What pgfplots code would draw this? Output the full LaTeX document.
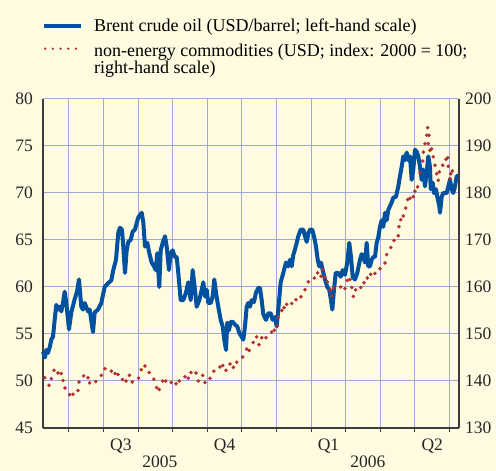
\documentclass[border=0pt]{standalone}
\usepackage{pgfplots}
\pgfplotsset{compat=1.18}
\usepackage{fontspec}
\setmainfont{Liberation Serif}
\definecolor{bgc}{RGB}{255,251,225}
\definecolor{gridc}{RGB}{160,168,218}
\definecolor{brent}{RGB}{0,82,160}
\definecolor{comm}{RGB}{178,48,45}
\definecolor{axc}{RGB}{60,60,60}
\begin{document}
\begin{tikzpicture}
\fill[bgc] (-43pt,-43pt) rectangle (453pt,428pt);
\path[use as bounding box] (-43pt,-43pt) rectangle (453pt,428pt);
\begin{axis}[
  at={(0pt,0pt)}, anchor=south west,
  scale only axis, width=416pt, height=329pt,
  xmin=5.249, xmax=17.272, ymin=45, ymax=80,
  xtick={6,...,17}, xticklabels={},
  ytick={45,50,...,80},
  grid=major, major grid style={color=gridc, line width=1pt},
  axis x line*=bottom, axis y line*=left,
  axis line style={-, color=axc, line width=1.2pt},
  x tick style={color=axc, line width=1pt}, tick align=outside,
  major tick length=4pt,
  y tick style={draw=none},
  /pgf/number format/assume math mode=true,
  tick label style={font=\fontsize{17.5}{20}\selectfont, color=black!85},
  yticklabel style={inner sep=0pt, xshift=-6pt},
  clip=false,
  legend style={at={(0,1)}, anchor=north west, xshift=-1pt, yshift=82pt,
    draw=none, fill=none, inner sep=0pt, column sep=9pt, row sep=8pt,
    font=\fontsize{18}{16}\selectfont,
    cells={anchor=base west, inner sep=0pt, text height=12pt, text depth=4pt}},
  legend image code/.code={\draw[#1, line width=4pt] (0pt,5pt) -- (37pt,5pt);},
]
\addplot[brent, line width=4pt, line join=round] table[x expr={6+(\thisrowno{0}-69)/34.6}, y index=1] {
px val
43 53.1
45 52.5
46.3 53.3
48 53.0
50 53.7
51.3 54.4
53 54.7
54.7 56.5
56.3 58.1
58 57.6
59.7 57.9
61.3 57.4
63 58.3
64.7 59.5
66.3 58.3
69 55.5
71.3 57.3
74.7 58.7
77 59.5
79 60.8
81.3 57.9
83 57.6
84.7 58.3
88 57.4
89.7 57.6
93 55.2
94.7 57.3
98 57.6
101.3 58.3
104.7 60.0
108 60.4
111.3 60.7
113.3 61.8
116 62.9
118.3 65.8
120 66.3
122 66.1
123.3 64.3
125 61.5
126.7 63.9
128.3 64.8
130.7 65.0
132.7 65.9
135 66.1
136.7 66.8
138.3 67.4
141.7 67.9
143.3 66.9
145 64.3
147.3 64.7
149.3 63.6
151.7 62.6
154 62.2
155.7 61.8
157.3 63.6
159.3 60.0
160.7 63.9
162.7 64.7
165 65.4
166.7 64.3
169 61.8
170.7 63.6
172.7 63.9
174.7 63.2
176.7 63.2
178.3 61.5
180.7 58.6
183.3 58.6
186 59.4
188.3 60.5
190.7 58.6
192.7 61.8
195 59.7
196.7 57.9
199.3 58.6
201.7 59.7
203.3 60.5
205 59.0
206.7 59.7
208.3 58.3
210.7 58.3
212.7 59.0
214.3 60.8
216 59.4
218.3 57.9
220.7 56.5
222.7 55.8
224.3 54.4
226 53.3
227.3 56.2
229 55.4
230.7 56.3
232.7 56.3
235 56.0
237.3 55.8
239.3 55.1
241.7 54.7
243.3 54.4
245 55.8
246.7 57.9
248.3 58.3
250 57.9
251.7 58.6
254 58.4
256 59.4
258.3 59.9
260 59.9
261.7 58.6
263.3 57.1
266 56.5
268.3 57.2
270.7 57.2
272.7 56.5
275 56.8
276.7 55.8
278.3 57.6
280.7 60.5
283.3 61.5
286 62.6
288.3 62.2
290 62.9
291.7 62.2
293.3 63.4
295 64.0
296.7 64.7
298.3 65.4
300.7 66.1
303.3 66.1
305 65.4
306.7 64.8
308.3 65.7
310 66.1
312.3 66.1
314 65.4
316 64.3
317.7 62.9
319.3 62.2
321 62.6
322.7 61.8
325 60.8
327.3 60.0
329.3 59.7
331 58.6
332.3 57.6
334 59.7
335.7 61.5
338.3 61.5
340.7 61.1
342.7 61.8
345 61.3
347.3 62.6
349.3 64.7
351 63.2
352.7 61.1
355 60.8
357.3 61.5
360 62.9
361.7 63.5
363.3 63.2
365 62.6
366.7 64.7
368.3 62.2
370 62.2
371.7 62.9
373.3 63.2
375 63.2
376.7 64.7
378.3 65.3
380 66.4
381.7 67.1
383.3 66.4
385 67.9
386.7 67.1
388.3 68.2
390 68.6
391.7 69.0
393.3 69.5
396 69.6
398.3 70.7
400 71.8
401.7 72.8
403.3 73.9
405 73.5
406.7 74.3
408.3 73.5
410 73.9
411.7 71.4
413.3 72.5
415 74.6
416.7 74.4
418.3 73.9
420 72.8
421.7 71.4
423.3 72.5
425 70.7
426.7 72.2
428.3 73.9
430 72.8
430.7 70.4
432.7 71.1
434 70.0
436 70.4
437.3 69.6
439.3 68.6
440 67.9
441.7 69.6
443.3 70.0
446.7 70.0
448.3 70.7
450 71.4
451.7 70.4
453.3 70.0
455 70.7
456.7 71.8
459 71.8
};
\addlegendentry{Brent crude oil (USD/barrel; left-hand scale)}
\addlegendimage{legend image code/.code={\draw[comm, line width=2.6pt, line cap=round, dash pattern=on 0pt off 7.7pt] (1pt,8pt) -- (33pt,8pt);}}
\addlegendentry{\begin{tabular}[t]{@{}l@{}}non-energy commodities (USD; index: 2000 = 100;\\right-hand scale)\end{tabular}}
\node[anchor=base, font=\fontsize{17.5}{20}\selectfont, color=black!85] at (axis cs:7.5,45) [yshift=-23pt] {Q3};
\node[anchor=base, font=\fontsize{17.5}{20}\selectfont, color=black!85] at (axis cs:10.5,45) [yshift=-23pt] {Q4};
\node[anchor=base, font=\fontsize{17.5}{20}\selectfont, color=black!85] at (axis cs:13.5,45) [yshift=-23pt] {Q1};
\node[anchor=base, font=\fontsize{17.5}{20}\selectfont, color=black!85] at (axis cs:16.5,45) [yshift=-23pt] {Q2};
\node[anchor=base, inner sep=0pt, font=\fontsize{17.5}{20}\selectfont, color=black!85] at (axis cs:8.63,45) [yshift=-40pt] {2005};
\node[anchor=base, inner sep=0pt, font=\fontsize{17.5}{20}\selectfont, color=black!85] at (axis cs:14.64,45) [yshift=-40pt] {2006};
\end{axis}
\begin{axis}[
  at={(0pt,0pt)}, anchor=south west,
  scale only axis, width=416pt, height=329pt,
  xmin=5.249, xmax=17.272, ymin=130, ymax=200,
  ytick={130,140,...,200},
  hide x axis, axis y line*=right,
  axis line style={-, color=axc, line width=1.2pt},
  y tick style={draw=none},
  /pgf/number format/assume math mode=true,
  tick label style={font=\fontsize{17.5}{20}\selectfont, color=black!85},
  yticklabel style={inner sep=0pt, xshift=6pt},
]
\addplot[only marks, mark=*, mark size=1.6pt, color=comm, mark options={draw=none, fill=comm}] table[x expr={6+(\thisrowno{0}-69)/34.6}, y index=1] {
px val
44.7 140.7
49 139.1
51.3 140.5
54 142.3
58 141.7
61.3 141.6
63 140.1
65 138.5
69.7 137.1
73 137.2
78 138.0
79 139.8
83.7 141.1
88 140.7
89.7 139.6
95.7 139.9
101.3 141.2
105 142.6
111.3 142.1
115 141.6
118 141.4
122.5 140.3
126 140.0
129.5 141.2
132.3 139.8
138.7 140.6
141.3 142.4
145 143.2
149.3 141.8
154 140.4
156.7 138.6
159.3 138.2
162.7 140.0
165.7 140.0
171.3 139.7
176 139.4
179.3 140.0
185 140.9
188.3 140.6
191 141.8
196 141.7
198.3 140.0
202.7 141.2
205 139.7
210 140.6
214 142.1
220 143.0
222.7 143.3
226 142.3
230 143.6
233.3 142.9
236.7 144.0
242.7 145.1
246.7 146.8
249.3 146.5
253.3 148.2
256.7 149.4
259 147.7
261.7 149.2
266 149.2
271.7 150.4
274.3 150.8
277.3 151.7
278.3 153.5
281.7 155.0
284 155.6
286.7 156.3
291.7 156.5
296 157.3
301 157.9
305 159.4
308.3 161.1
314.3 161.9
317.7 163.0
321 162.3
322.7 163.7
325 162.1
327.3 161.1
330 159.4
331.7 158.1
333.3 159.8
340.7 160.0
345 159.7
347.3 161.4
350 161.6
351.7 159.9
353.3 158.0
355.7 159.4
360.7 159.9
364 160.9
367.3 161.9
370.7 162.7
375 162.9
380 163.9
385 165.1
386.7 166.9
390.7 168.4
394 169.9
398.3 170.9
399 172.8
400.7 174.3
403.3 175.1
405.7 176.8
407.7 178.6
410 178.9
413.3 179.2
415 180.4
417.7 181.3
420 184.3
422.7 186.8
423.3 188.7
425 190.5
426.7 192.3
427.7 193.9
429 192.3
428.3 190.5
430 189.1
431.7 189.4
433.3 187.7
435 185.9
436.7 184.1
438.3 182.7
439.3 184.5
442.7 185.9
446 187.2
447.7 187.5
448.3 185.7
450 183.1
450.7 184.1
452.3 184.7
};
\end{axis}
\end{tikzpicture}
\end{document}
